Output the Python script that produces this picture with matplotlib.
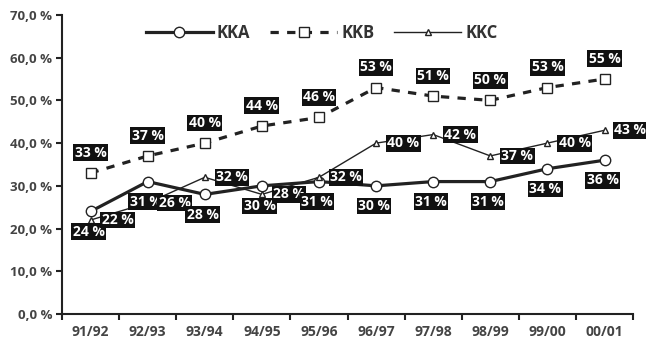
import matplotlib.pyplot as plt
from matplotlib.ticker import FuncFormatter

plt.rcParams['font.family'] = ['Open Sans', 'DejaVu Sans']

years = ['91/92', '92/93', '93/94', '94/95', '95/96',
         '96/97', '97/98', '98/99', '99/00', '00/01']
kka = [24, 31, 28, 30, 31, 30, 31, 31, 34, 36]
kkb = [33, 37, 40, 44, 46, 53, 51, 50, 53, 55]
kkc = [22, 26, 32, 28, 32, 40, 42, 37, 40, 43]

ink = '#222222'
grey = '#444444'

fig = plt.figure(figsize=(6.46, 3.47), dpi=100)
ax = fig.add_axes([0.096, 0.095, 0.884, 0.862])
x = range(len(years))

ax.plot(x, kka, color=ink, lw=2.3, marker='o', ms=7.5, mfc='white',
        mec=ink, mew=1.0, label='KKA', zorder=3)
ax.plot(x, kkb, color=ink, lw=2.3, ls=(0, (2.6, 2.6)), marker='s', ms=7.5,
        mfc='white', mec=ink, mew=1.0, label='KKB', zorder=3)
ax.plot(x, kkc, color=ink, lw=1.0, marker='^', ms=5, mfc='white',
        mec=ink, mew=1.0, label='KKC', zorder=3)

box = dict(boxstyle='square,pad=0.1', fc='#111111', ec='none')
def tag(xi, yi, dx, dy, size=10):
    ax.annotate(f'{yi} %', (xi, yi), xytext=(dx, dy),
                textcoords='offset points', ha='center', va='center',
                color='white', fontsize=size, fontweight='bold', bbox=box,
                zorder=4)

for i in x:
    tag(i, kkb[i], 0, 14.5)
    tag(i, kka[i], -1.5, -14.5)
    tag(i, kkc[i], 19.5 if i < len(years) - 1 else 18.5, 0)

ax.set_xlim(-0.5, len(years) - 0.5)
ax.set_ylim(0, 70)
ax.set_yticks(range(0, 71, 10))
ax.yaxis.set_major_formatter(FuncFormatter(lambda v, p: f'{v:.1f} %'.replace('.', ',')))
ax.set_xticks([i + 0.5 for i in range(-1, len(years))], minor=False)
ax.set_xticklabels([])
ax.set_xticks(list(x), minor=True)
ax.set_xticklabels(years, minor=True)
ax.tick_params(axis='x', which='minor', length=0, pad=8)
ax.tick_params(axis='x', which='major', length=4, width=1.5, color=ink)
ax.tick_params(axis='y', length=4, width=1.5, color=ink, pad=3)
for lab in ax.get_xticklabels(minor=True):
    lab.set_color(grey)
    lab.set_fontsize(10)
    lab.set_fontweight('bold')
for lab in ax.get_yticklabels():
    lab.set_color(grey)
    lab.set_fontsize(9.5)
    lab.set_fontweight('bold')

for s in ('top', 'right'):
    ax.spines[s].set_visible(False)
for s in ('left', 'bottom'):
    ax.spines[s].set_linewidth(1.5)
    ax.spines[s].set_color(ink)

leg = ax.legend(loc='upper center', bbox_to_anchor=(0.455, 1.02), ncol=3,
                frameon=False, handlelength=4.0, columnspacing=1.2,
                handletextpad=0.25, prop={'weight': 'bold', 'size': 12})
for t in leg.get_texts():
    t.set_color('#333333')

fig.savefig('out.png', dpi=100)
